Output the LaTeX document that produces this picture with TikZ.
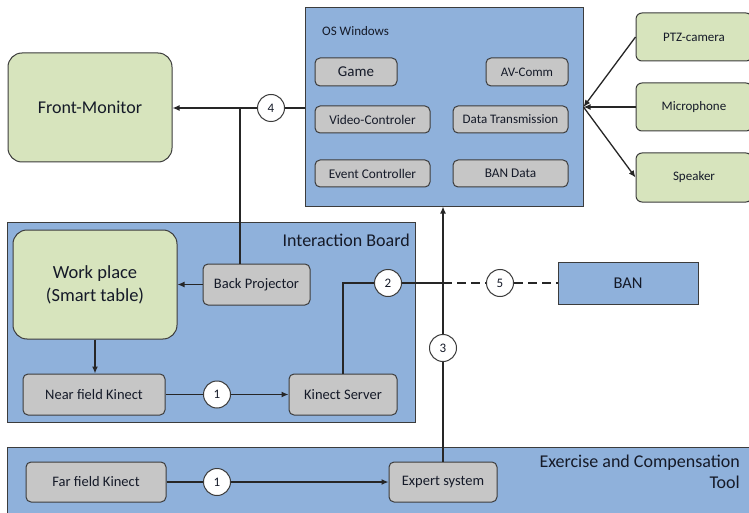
\documentclass[tikz,border=0pt]{standalone}
\usepackage{fontspec}
\setmainfont{Carlito}
\usetikzlibrary{arrows.meta}
\definecolor{panel}{HTML}{8FB1DB}
\definecolor{leaf}{HTML}{D7E4BD}
\definecolor{box}{HTML}{C6C6C6}
\definecolor{edge}{HTML}{3C3C3C}
\definecolor{ink}{HTML}{151A28}
\newcommand{\fsz}[1]{\fontsize{#1}{#1}\selectfont}
\tikzset{
  panelbox/.style={draw=edge, line width=1pt, fill=panel, inner sep=0pt},
  graybox/.style={draw=edge, line width=1pt, fill=box, rounded corners=5pt, inner sep=0pt, text=ink, font=\fsz{14.5}},
  greenbox/.style={draw=edge, line width=1pt, fill=leaf, inner sep=0pt, text=ink},
  numcirc/.style={circle, draw=edge, line width=1pt, fill=white, minimum size=27pt, inner sep=0pt, text=ink, font=\fsz{13}},
  conn/.style={draw=black!85, line width=1.3pt},
  arr/.style={conn, -{Latex[length=7pt,width=6pt]}},
  lbl/.style={text=ink, inner sep=0pt},
}
\begin{document}
\begin{tikzpicture}[x=1pt,y=-1pt]
\useasboundingbox (0,0) rectangle (749,513);
\fill[white] (0,0) rectangle (749,513);

% OS Windows
\node[panelbox, minimum width=278pt, minimum height=198pt] (os) at (444,107) {};
\node[lbl, anchor=west, font=\fsz{13}] (oslbl) at (322,31) {OS Windows};
\node[graybox, minimum width=82pt, minimum height=28pt, font=\fsz{15}] (game) at (356,72) {Game};
\node[graybox, minimum width=82pt, minimum height=28pt, font=\fsz{13}] (av) at (527,72) {AV-Comm};
\node[graybox, minimum width=115pt, minimum height=27pt, font=\fsz{13.3}] (vc) at (372.5,119.5) {Video-Controler};
\node[graybox, minimum width=115pt, minimum height=27pt, font=\fsz{13}] (dt) at (510.5,119.5) {Data Transmission};
\node[graybox, minimum width=115pt, minimum height=27pt, font=\fsz{13.3}] (ec) at (372.5,173.5) {Event Controller};
\node[graybox, minimum width=115pt, minimum height=27pt, font=\fsz{13.3}] (bd) at (510.5,173.5) {BAN Data};

% right devices
\node[greenbox, rounded corners=6pt, minimum width=116pt, minimum height=48pt, font=\fsz{13}] (ptz) at (694,37) {PTZ-camera};
\node[greenbox, rounded corners=6pt, minimum width=116pt, minimum height=48pt, font=\fsz{13}] (mic) at (694,107) {Microphone};
\node[greenbox, rounded corners=6pt, minimum width=116pt, minimum height=49pt, font=\fsz{13}] (spk) at (694,177.5) {Speaker};

% Front monitor
\node[greenbox, rounded corners=14pt, minimum width=164pt, minimum height=109pt, font=\fsz{18}] (fm) at (90,107.5) {Front-Monitor};

% Interaction board
\node[panelbox, minimum width=408pt, minimum height=200pt] (ib) at (211,322) {};
\node[lbl, anchor=east, font=\fsz{18}] (iblbl) at (410,240) {Interaction Board};
\node[greenbox, rounded corners=14pt, minimum width=164pt, minimum height=109pt, font=\fsz{18.5}, align=center] (wp) at (95,284.5) {Work place\\[4.5pt](Smart table)};
\node[graybox, minimum width=107pt, minimum height=41pt] (bp) at (256.5,284.5) {Back Projector};
\node[graybox, minimum width=142pt, minimum height=41pt] (nfk) at (94,394.5) {Near field Kinect};
\node[graybox, minimum width=108pt, minimum height=41pt] (ks) at (343,394.5) {Kinect Server};

% BAN
\node[panelbox, minimum width=140pt, minimum height=42pt, text=ink, font=\fsz{16.5}] (ban) at (628,283) {BAN};

% Exercise and compensation tool
\node[panelbox, minimum width=750pt, minimum height=75pt] (ect) at (382,484.5) {};
\node[lbl, anchor=east, align=right, font=\fsz{18}] (ectlbl) at (740,471.5) {Exercise and Compensation\\[3pt]Tool};
\node[graybox, minimum width=140pt, minimum height=40pt] (ffk) at (96,482) {Far field Kinect};
\node[graybox, minimum width=108pt, minimum height=40pt] (es) at (443,482) {Expert system};

% numbered circles
\node[numcirc] (c4) at (271,108) {4};
\node[numcirc] (c2) at (388,283) {2};
\node[numcirc] (c5) at (500,283) {5};
\node[numcirc] (c3) at (443,348) {3};
\node[numcirc] (c1a) at (217,394.5) {1};
\node[numcirc] (c1b) at (217,482) {1};
\coordinate (j4) at (240,108);
\coordinate (j3) at (443,283);

% connectors
\draw[conn] (os.west |- c4) -- (c4);
\draw[arr] (c4) -- (fm.east |- c4);
\draw[conn] (bp.north -| j4) -- (j4);

\draw[arr] (ptz.west) -- (os.east);
\draw[arr] (mic.west) -- (os.east);
\draw[arr] (os.east) -- (spk.west);

\draw[arr] (bp.west) -- (wp.east);
\draw[arr] (wp.south) -- (nfk.north -| wp.south);
\draw[conn] (nfk.east) -- (c1a);
\draw[arr] (c1a) -- (ks.west);
\draw[conn] (ks.north) |- (c2);
\draw[conn] (c2) -- (j3);
\draw[conn, dash pattern=on 9pt off 5pt] (j3) -- (c5);
\draw[conn, dash pattern=on 9pt off 5pt] (c5) -- (ban.west);

\draw[conn] (es.north) -- (c3);
\draw[arr] (c3) -- (c3 |- os.south);

\draw[conn] (ffk.east) -- (c1b);
\draw[arr] (c1b) -- (es.west);
\end{tikzpicture}
\end{document}
